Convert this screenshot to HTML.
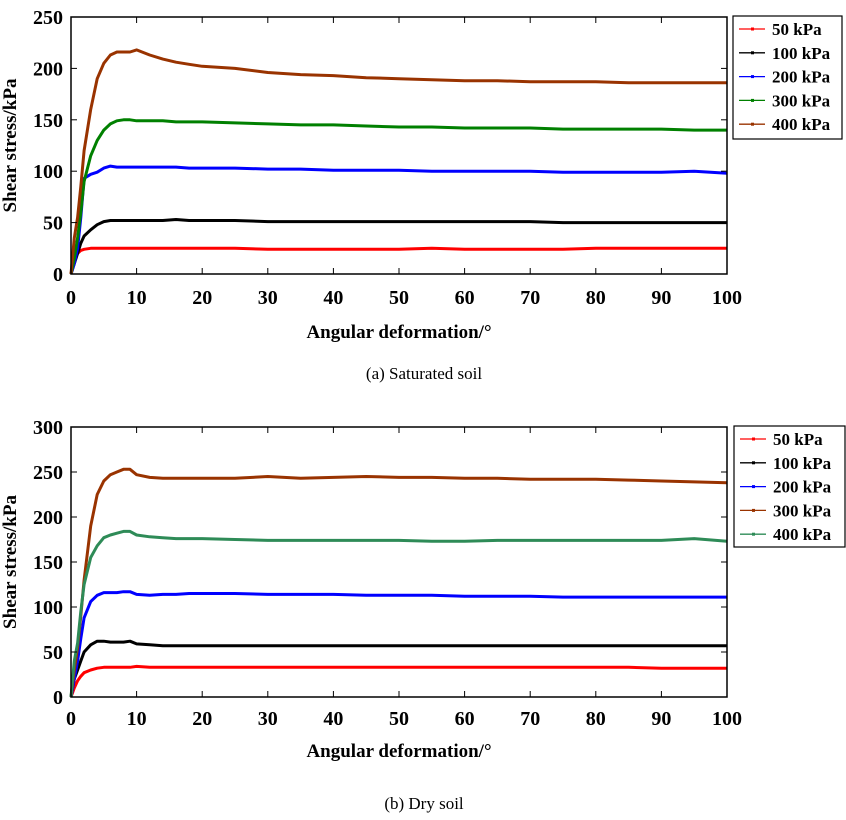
<!DOCTYPE html>
<html><head><meta charset="utf-8"><style>
html,body{margin:0;padding:0;background:#fff;}
svg text{font-family:"Liberation Serif",serif;}
</style></head><body>
<svg id="svg" width="846" height="815" xmlns="http://www.w3.org/2000/svg">
<text x="424" y="379" font-size="17" text-anchor="middle">(a) Saturated soil</text>
<text x="424" y="809" font-size="17" text-anchor="middle">(b) Dry soil</text>
</svg>
<script>
const xs = [0,0.5,1,1.5,2,3,4,5,6,7,8,9,10,12,14,16,18,20,25,30,35,40,45,50,55,60,65,70,75,80,85,90,95,100];
const labelsA = ["50 kPa","100 kPa","200 kPa","300 kPa","400 kPa"];
const colorsA = ["#ff0000","#000000","#0000ff","#008000","#993300"];
const satA50  = [0,15,20,23,24,25,25,25,25,25,25,25,25,25,25,25,25,25,25,24,24,24,24,24,25,24,24,24,24,25,25,25,25,25];
const satA100 = [0,10,20,30,37,43,48,51,52,52,52,52,52,52,52,53,52,52,52,51,51,51,51,51,51,51,51,51,50,50,50,50,50,50];
const satA200 = [0,10,25,55,93,97,99,103,105,104,104,104,104,104,104,104,103,103,103,102,102,101,101,101,100,100,100,100,99,99,99,99,100,98];
const satA300 = [0,15,35,60,90,115,130,140,146,149,150,150,149,149,149,148,148,148,147,146,145,145,144,143,143,142,142,142,141,141,141,141,140,140];
const satA400 = [0,35,55,85,120,160,190,205,213,216,216,216,218,213,209,206,204,202,200,196,194,193,191,190,189,188,188,187,187,187,186,186,186,186];
const labelsB = ["50 kPa","100 kPa","200 kPa","300 kPa","400 kPa"];
const colorsB = ["#ff0000","#000000","#0000ff","#993300","#2e8b57"];
const dryB50  = [0,10,18,23,27,30,32,33,33,33,33,33,34,33,33,33,33,33,33,33,33,33,33,33,33,33,33,33,33,33,33,32,32,32];
const dryB100 = [0,20,30,40,50,58,62,62,61,61,61,62,59,58,57,57,57,57,57,57,57,57,57,57,57,57,57,57,57,57,57,57,57,57];
const dryB200 = [0,20,40,65,88,106,113,116,116,116,117,117,114,113,114,114,115,115,115,114,114,114,113,113,113,112,112,112,111,111,111,111,111,111];
const dryB300 = [0,30,55,90,130,190,225,240,247,250,253,253,247,244,243,243,243,243,243,245,243,244,245,244,244,243,243,242,242,242,241,240,239,238];
const dryB400 = [0,40,60,95,125,155,168,177,180,182,184,184,180,178,177,176,176,176,175,174,174,174,174,174,173,173,174,174,174,174,174,174,176,173];
const xTicks = [0,10,20,30,40,50,60,70,80,90,100];
const yTicksA = [0,50,100,150,200,250];
const yTicksB = [0,50,100,150,200,250,300];

const NS="http://www.w3.org/2000/svg";
const svg=document.getElementById('svg');
function mk(tag,attrs,parent){const e=document.createElementNS(NS,tag);for(const k in attrs)e.setAttribute(k,attrs[k]);(parent||svg).appendChild(e);return e;}

function chart(id,L,R,T,B,yMax,yTicks,series,colors,labels,legX,legY,legW,legH,xlabelY,xtickOff){
  const g=mk('g',{});
  
  
  const sx=v=>L+(v/100)*(R-L), sy=v=>B-(v/yMax)*(B-T);
  series.forEach((s,i)=>{
    const pts=xs.map((x,j)=>sx(x).toFixed(1)+','+sy(s[j]).toFixed(1)).join(' ');
    const pl=mk('polyline',{points:pts,fill:'none',stroke:colors[i],'stroke-width':3,'stroke-linejoin':'round'},g);
    
    
  });
  const fr=mk('rect',{x:L,y:T,width:R-L,height:B-T,fill:'none',stroke:'#000','stroke-width':1.5},g);
  
  
  xTicks.forEach(t=>{
    const x=sx(t);
    mk('line',{x1:x,y1:B,x2:x,y2:B-6,stroke:'#000','stroke-width':1},g);
    mk('line',{x1:x,y1:T,x2:x,y2:T+6,stroke:'#000','stroke-width':1},g);
    const tx=mk('text',{x:x,y:B+xtickOff,'font-size':20,'font-weight':'bold','text-anchor':'middle'},g);
    tx.textContent=t;
    
    
  });
  yTicks.forEach(t=>{
    const y=sy(t);
    mk('line',{x1:L,y1:y,x2:L+6,y2:y,stroke:'#000','stroke-width':1},g);
    mk('line',{x1:R,y1:y,x2:R-6,y2:y,stroke:'#000','stroke-width':1},g);
    const tx=mk('text',{x:L-8,y:y+7,'font-size':20,'font-weight':'bold','text-anchor':'end'},g);
    tx.textContent=t;
    
    
  });
  const xl=mk('text',{x:(L+R)/2,y:xlabelY,'font-size':19,'font-weight':'bold','text-anchor':'middle'},g);
  xl.textContent='Angular deformation/°';
  
  
  const yl=mk('text',{x:0,y:0,'font-size':19,'font-weight':'bold','text-anchor':'middle',transform:`translate(16,${(T+B)/2}) rotate(-90)`},g);
  yl.textContent='Shear stress/kPa';
  
  
  const lg=mk('g',{},g);
  
  
  mk('rect',{x:legX,y:legY,width:legW,height:legH,fill:'#fff',stroke:'#000','stroke-width':1.2},lg);
  labels.forEach((lb,i)=>{
    const y=legY+13+i*23.8;
    const it=mk('g',{},lg);
    
    
    mk('line',{x1:legX+6,y1:y,x2:legX+32,y2:y,stroke:colors[i],'stroke-width':1.3},it);
    mk('rect',{x:legX+18,y:y-1.5,width:3,height:3,fill:colors[i]},it);
    const tx=mk('text',{x:legX+39,y:y+6,'font-size':17,'font-weight':'bold'},it);
    tx.textContent=lb;
  });
}
chart('saturated',71,727,17,274,250,yTicksA,[satA50,satA100,satA200,satA300,satA400],colorsA,labelsA,733,16,109,123,338,30);
chart('dry',71,727,427,697,300,yTicksB,[dryB50,dryB100,dryB200,dryB300,dryB400],colorsB,labelsB,734,426,111,121,757,28);
</script>
</body></html>
